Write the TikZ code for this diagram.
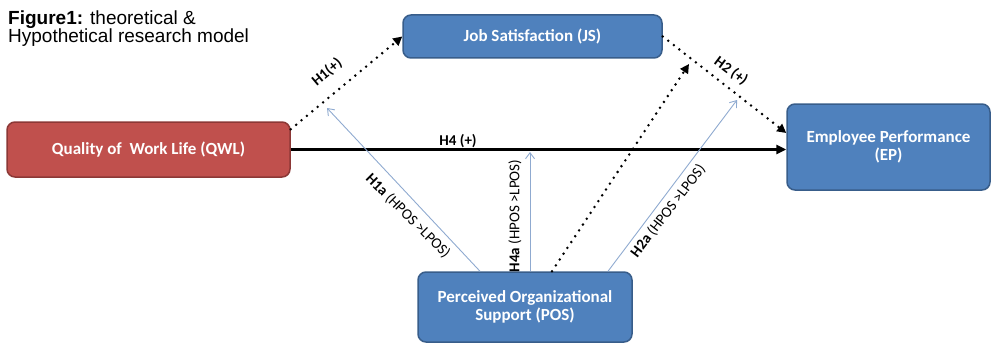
\documentclass[tikz,border=0pt]{standalone}
\usepackage{fontspec}
\setmainfont{Carlito}
\newfontfamily\arialf{Liberation Sans}
\usetikzlibrary{arrows.meta,calc}
\definecolor{boxblue}{HTML}{4F81BD}
\definecolor{boxblueedge}{HTML}{385D8A}
\definecolor{boxred}{HTML}{C0504D}
\definecolor{boxrededge}{HTML}{8C3836}
\definecolor{thinblue}{HTML}{8FAAD0}
\begin{document}
\begin{tikzpicture}[x=1pt,y=-1pt,
 box/.style={draw=boxblueedge, fill=boxblue, line width=1.5pt, rounded corners=8pt, text=white, font=\bfseries\fontsize{17}{18}\selectfont, align=center, inner sep=0pt},
 redbox/.style={box, draw=boxrededge, fill=boxred},
 dotarrow/.style={line width=2.8pt, dash pattern=on 0pt off 7pt, line cap=round, -{Triangle[length=9pt,width=9pt]}},
 solidarrow/.style={line width=2.6pt, -{Triangle[length=10pt,width=9pt]}},
 thinarrow/.style={draw=thinblue, line width=0.9pt, -{Straight Barb[length=6pt,width=9pt]}},
 lbl/.style={font=\fontsize{15}{16}\selectfont, inner sep=0pt}
]
\useasboundingbox (0,0) rectangle (996,345);

\node[anchor=north west, align=left, font=\arialf\fontsize{19}{18}\selectfont, inner sep=0pt] (title) at (8,11) {\textbf{Figure1:} theoretical \&\\Hypothetical research model};

\node[box, minimum width=259pt, minimum height=43pt] (JS) at (532.5,36.5) {Job Satisfaction (JS)};
\node[redbox, minimum width=283pt, minimum height=55pt] (QWL) at (148.5,149.5) {Quality of\ \ Work Life (QWL)};
\node[box, minimum width=203pt, minimum height=86pt] (EP) at (888.5,147) {Employee Performance\\(EP)};
\node[box, minimum width=214pt, minimum height=70pt] (POS) at (525,307) {Perceived Organizational\\Support (POS)};

\coordinate (mJSEP) at (689,64);
\coordinate (m1a) at (327,108);
\coordinate (m4a) at (530,152);
\coordinate (m2a) at (737,100);

\draw[dotarrow] ([yshift=-8pt]QWL.north east) -- (JS.west);
\draw[dotarrow] (JS.east) -- ([yshift=14pt]EP.west);
\draw[solidarrow] (QWL.east) -- (QWL.east -| EP.west);
\draw[dotarrow] ([xshift=27pt]POS.north) -- (mJSEP);
\draw[thinarrow] ([xshift=-45pt]POS.north) -- (m1a);
\draw[thinarrow] (POS.north -| m4a) -- (m4a);
\draw[thinarrow] ([xshift=83pt]POS.north) -- (m2a);

\node[lbl, rotate=40] (l1) at (327,72) {\textbf{H1(+)}};
\node[lbl, rotate=-37] (l2) at (731,71) {\textbf{H2 (+)}};
\node[lbl] (l4) at (458,141) {\textbf{H4 (+)}};
\node[lbl, rotate=-45] (l1a) at (408,216) {\textbf{H1a} (HPOS >LPOS)};
\node[lbl, rotate=90] (l4a) at (515,216) {\textbf{H4a} (HPOS >LPOS)};
\node[lbl, rotate=52.5] (l2a) at (668,211) {\textbf{H2a} (HPOS >LPOS)};
\end{tikzpicture}
\end{document}
